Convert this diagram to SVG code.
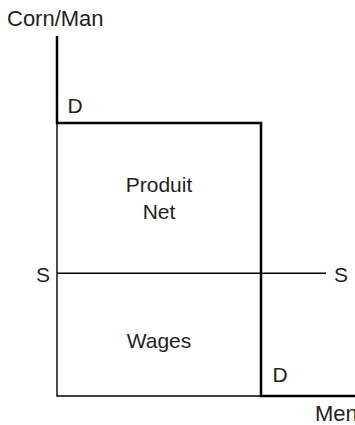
<svg xmlns="http://www.w3.org/2000/svg" width="355" height="425" viewBox="0 0 355 425">
<style>
text{font-family:"Liberation Sans",Arial,Helvetica,sans-serif;font-size:21px;fill:#231f20}
.ax{font-size:22px}
.thick{fill:none;stroke:#000;stroke-width:2.5}
.thin{fill:none;stroke:#000;stroke-width:1.4}
.c{text-anchor:middle}
</style>
<rect width="355" height="425" fill="#fff"/>
<g id="connectors">
<path class="thin" d="M57,123 V396 H261"/>
<path class="thin" d="M57,273.3 H326"/>
<path class="thick" d="M57,36 V123 H261 V396 H355"/>
</g>
<g id="axis-y"><text class="ax" x="7" y="26">Corn/Man</text></g>
<g id="axis-x"><text class="ax" x="315" y="421">Men</text></g>
<g id="produit-net"><text class="c" x="159" y="192">Produit</text><text class="c" x="159" y="219">Net</text></g>
<g id="wages"><text class="c" x="159" y="348">Wages</text></g>
<g id="d-top"><text x="67.5" y="113">D</text></g>
<g id="d-bottom"><text x="272.5" y="382">D</text></g>
<g id="s-left"><text x="50" y="282" text-anchor="end">S</text></g>
<g id="s-right"><text x="334" y="282">S</text></g>
</svg>
